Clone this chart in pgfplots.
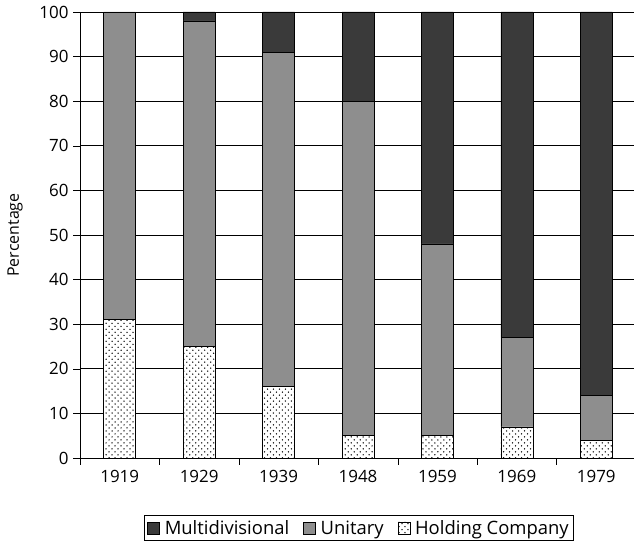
\documentclass[border=0pt]{standalone}
\usepackage{pgfplots}
\pgfplotsset{compat=1.18}
\usepackage{fontspec}
\setmainfont{Open Sans}
\usetikzlibrary{patterns}
\definecolor{mdiv}{HTML}{3A3A3A}
\definecolor{unit}{HTML}{8E8E8E}
\pgfdeclarepatternformonly{sdots}{\pgfqpoint{-1pt}{-1pt}}{\pgfqpoint{7pt}{7pt}}{\pgfqpoint{6pt}{6pt}}{
  \pgfpathcircle{\pgfqpoint{1.5pt}{1.5pt}}{0.75pt}
  \pgfpathcircle{\pgfqpoint{4.5pt}{4.5pt}}{0.75pt}
  \pgfusepath{fill}
}
\begin{document}
\begin{tikzpicture}[x=1bp,y=1bp]
\useasboundingbox (0,0) rectangle (634,549);
\begin{axis}[
  at={(80bp,91bp)}, anchor=south west,
  scale only axis, width=556bp, height=446bp,
  ybar stacked, bar width=32bp,
  xmin=-0.5, xmax=6.5, ymin=0, ymax=100,
  axis lines*=left,
  xtick={0,...,6},
  xticklabels={1919,1929,1939,1948,1959,1969,1979},
  major x tick style={draw=none},
  minor xtick={-0.5,0.5,1.5,2.5,3.5,4.5,5.5},
  minor x tick style={black, thin},
  minor tick length=7bp,
  xtick align=outside, ytick align=outside,
  ytick={0,10,...,100},
  major tick length=7bp,
  ytick style={black, thin},
  ymajorgrids, grid style={black, line width=0.6pt},
  axis line style={black, line width=0.8pt},
  tick label style={font=\fontsize{17}{19}\selectfont},
  /pgf/number format/assume math mode=true,
  yticklabel style={xshift=-1bp},
  xticklabel style={yshift=-2bp},
  ylabel={Percentage},
  every axis y label/.style={at={(rel axis cs:0,0.5)}, xshift=-65bp, rotate=90, anchor=center, font=\fontsize{16}{18}\selectfont},
  legend style={at={(279bp,-70bp)}, anchor=center, legend columns=-1,
    draw=black, line width=0.8pt, font=\fontsize{18.5}{21}\selectfont, inner sep=3bp,
    /tikz/every even column/.append style={column sep=12bp},
    /tikz/every odd column/.append style={column sep=3bp}},
  reverse legend,
  legend image code/.code={\draw[#1, line width=0.5pt] (0bp,-6bp) rectangle (12bp,6bp);},
]
\addplot[draw=black, line width=0.5pt, fill=white, postaction={pattern=sdots}] coordinates {(0,31) (1,25) (2,16) (3,5) (4,5) (5,7) (6,4)};
\addplot[draw=black, line width=0.5pt, fill=unit] coordinates {(0,69) (1,73) (2,75) (3,75) (4,43) (5,20) (6,10)};
\addplot[draw=black, line width=0.5pt, fill=mdiv] coordinates {(0,0) (1,2) (2,9) (3,20) (4,52) (5,73) (6,86)};
\legend{Holding Company, Unitary, Multidivisional}
\end{axis}
\end{tikzpicture}
\end{document}
